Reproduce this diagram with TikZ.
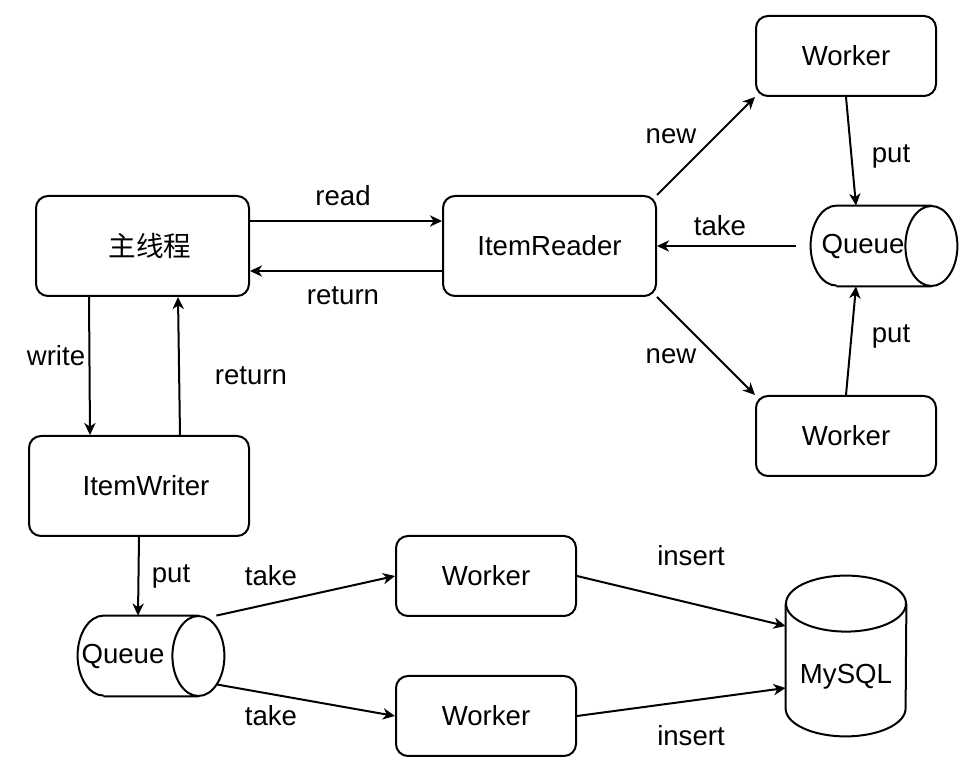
\documentclass[tikz,border=0pt]{standalone}
\usepackage{fontspec}
\setmainfont{Liberation Sans}
\newfontfamily\cjk{Noto Sans CJK SC}
\usetikzlibrary{arrows.meta,calc}
\begin{document}
\begin{tikzpicture}[x=0.5pt,y=-0.5pt,
  every node/.style={font=\fontsize{13.8}{16}\selectfont},
  box/.style={draw, line width=1pt, rounded corners=6pt, inner sep=0pt},
  bigbox/.style={box, minimum width=106.5pt, minimum height=50pt},
  wbox/.style={box, minimum width=90pt, minimum height=40pt},
  qbox/.style={inner sep=0pt, minimum width=73pt, minimum height=40pt},
  shp/.style={line width=1pt},
  conn/.style={line width=1pt, -{Stealth[length=6pt,width=5.6pt,inset=1.8pt]}},
  lbl/.style={inner sep=1pt}]
\useasboundingbox (0,0) rectangle (976,774);

% nodes
\node[bigbox, label={[xshift=3.75pt]center:{\cjk 主线程}}] (main) at (142.5,246) {};
\node[bigbox] (reader) at (549.5,246) {ItemReader};
\node[wbox] (w1) at (846,56) {Worker};
\node[wbox] (w2) at (846,436) {Worker};
\node[box, minimum width=110pt, minimum height=50pt, label={[xshift=3.5pt]center:ItemWriter}] (writer) at (139,486) {};
\node[wbox] (w3) at (486,576) {Worker};
\node[wbox] (w4) at (486,716) {Worker};
\node[qbox, label={[xshift=-10.5pt]center:Queue}] (q1) at (884,246) {};
\node[qbox, label={[xshift=-14pt]center:Queue}] (q2) at (151,656) {};
\node[inner sep=0pt, minimum width=60pt, minimum height=80pt] (db) at (846,656) {};
\node at (846,677) {MySQL};

% queue shapes
\foreach \q in {q1,q2}{
  \draw[shp] ([xshift=13pt]\q.north west) -- ([xshift=-13pt]\q.north east)
             ([xshift=13pt]\q.south west) -- ([xshift=-13pt]\q.south east)
             ([xshift=13pt]\q.north west) arc[start angle=90,end angle=270,x radius=13pt,y radius=20pt]
             ([xshift=-13pt]\q.east) ellipse[x radius=13pt,y radius=20pt];
}
% database shape
\draw[shp] ([yshift=-14pt]db.north) ellipse[x radius=30pt,y radius=14pt];
\draw[shp] ([yshift=-14pt]db.north west) -- ([yshift=14pt]db.south west)
           arc[start angle=180,end angle=360,x radius=30pt,y radius=14pt]
           -- ([yshift=-14pt]db.north east);

% connectors
\draw[conn] ([yshift=12.5pt]main.east) -- ([yshift=12.5pt]reader.west);
\node at (343,196) {read};
\draw[conn] ([yshift=-12.5pt]reader.west) -- ([yshift=-12.5pt]main.east);
\node at (343,296) {return};
\draw[conn] (reader.north east) -- (w1.south west);
\node at (671,136) {new};
\draw[conn] (reader.south east) -- (w2.north west);
\node at (671,356) {new};
\draw[conn] (w1.south) -- ([xshift=-14pt]q1.north);
\node at (891,156) {put};
\draw[conn] (w2.north) -- ([xshift=-14pt]q1.south);
\node at (891,336) {put};
\draw[conn] ([xshift=-7.5pt]q1.west) -- (reader.east);
\node at (720,226) {take};
\draw[conn] ([xshift=-26.75pt]main.south) -- ([xshift=-24.5pt]writer.north);
\node at (56,356) {write};
\draw[conn] ([xshift=20.5pt]writer.north) -- ([xshift=17.75pt]main.south);
\node at (251,376) {return};
\draw[conn] (writer.south) -- ([xshift=-6.5pt]q2.north);
\node at (171,576) {put};
\draw[conn] ([xshift=-4pt]q2.north east) -- (w3.west);
\node at (271,576) {take};
\draw[conn] ([xshift=-4pt,yshift=6pt]q2.south east) -- (w4.west);
\node at (271,716) {take};
\draw[conn] (w3.east) -- ([yshift=15pt]db.west);
\node at (691,556) {insert};
\draw[conn] (w4.east) -- ([yshift=-16pt]db.west);
\node at (691,736) {insert};
\end{tikzpicture}
\end{document}
